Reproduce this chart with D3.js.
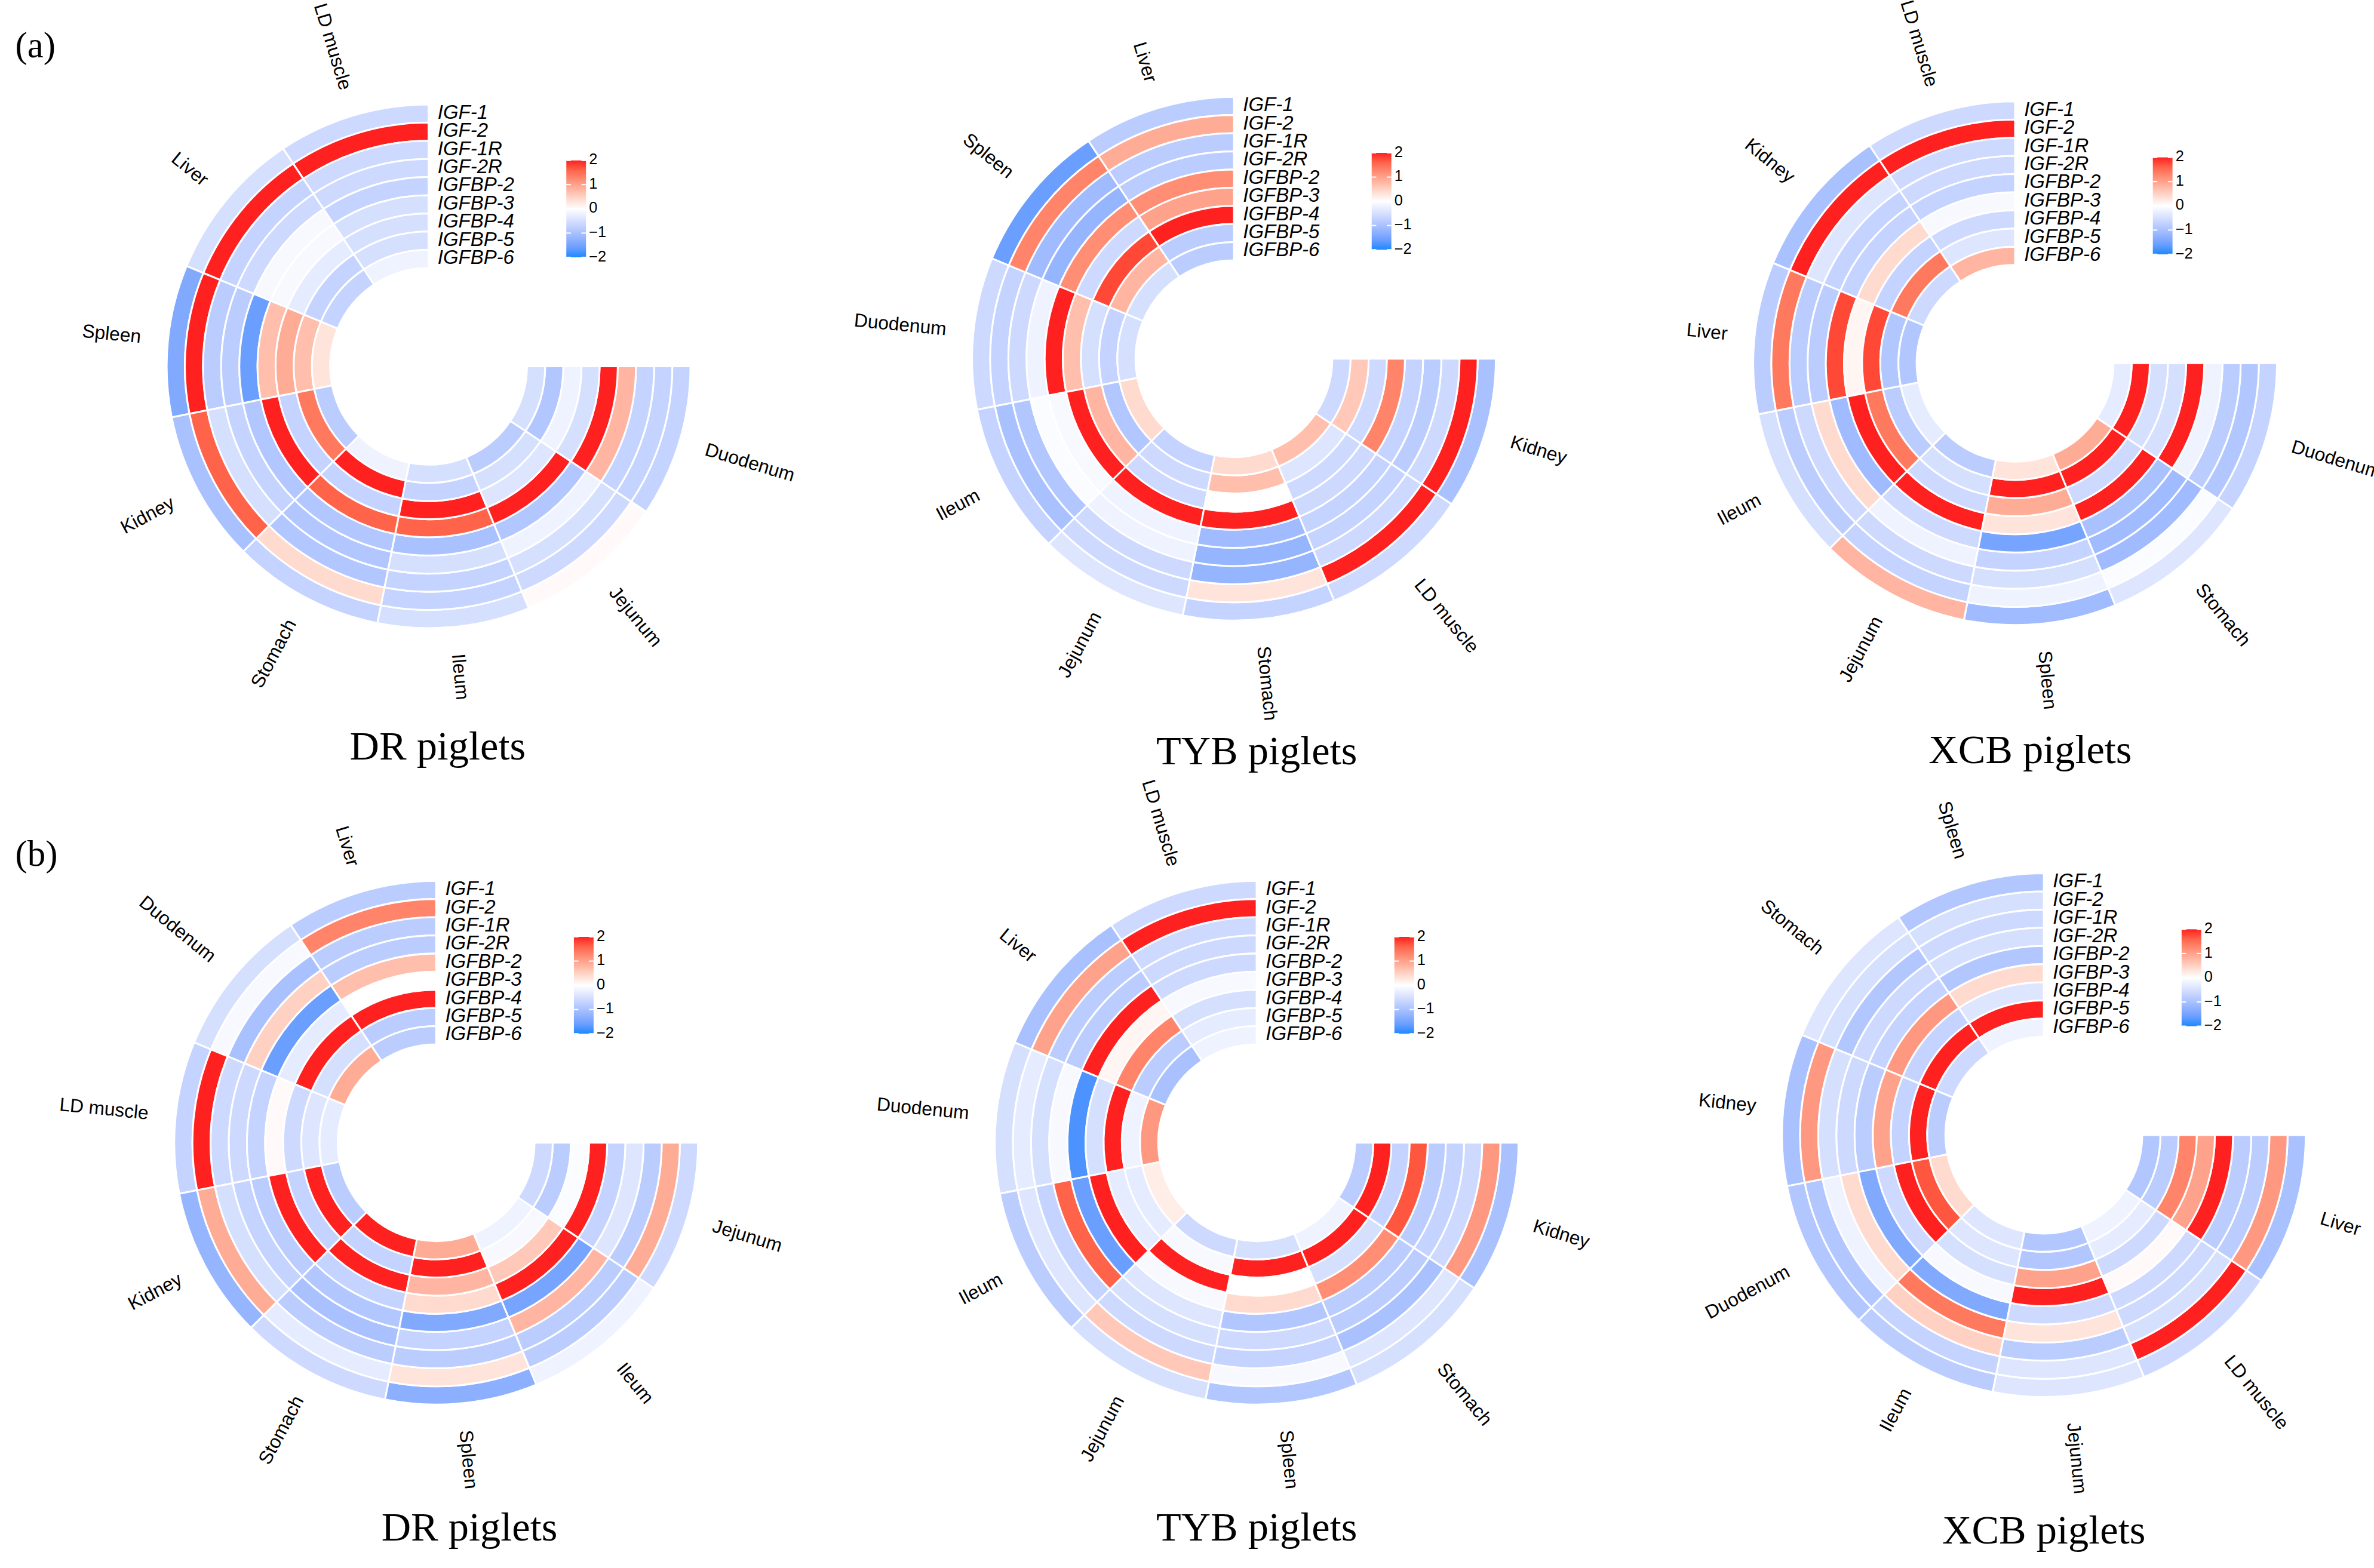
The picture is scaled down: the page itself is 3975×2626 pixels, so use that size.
<!DOCTYPE html>
<html>
<head>
<meta charset="utf-8">
<script src="https://cdn.jsdelivr.net/npm/d3@7"></script>
<style>
body { margin: 0; background: #fff; }
</style>
</head>
<body>
<div id="chart"></div>
<script>
var genes = ["IGF-1", "IGF-2", "IGF-1R", "IGF-2R", "IGFBP-2", "IGFBP-3", "IGFBP-4", "IGFBP-5", "IGFBP-6"];

// tissue order per panel (counter-clockwise from 12 o'clock)
var tissuesA_DR = ["LD muscle", "Liver", "Spleen", "Kidney", "Stomach", "Ileum", "Jejunum", "Duodenum"];
var tissuesA_TYB = ["Liver", "Spleen", "Duodenum", "Ileum", "Jejunum", "Stomach", "LD muscle", "Kidney"];
var tissuesA_XCB = ["LD muscle", "Kidney", "Liver", "Ileum", "Jejunum", "Spleen", "Stomach", "Duodenum"];
var tissuesB_DR = ["Liver", "Duodenum", "LD muscle", "Kidney", "Stomach", "Spleen", "Ileum", "Jejunum"];
var tissuesB_TYB = ["LD muscle", "Liver", "Duodenum", "Ileum", "Jejunum", "Spleen", "Stomach", "Kidney"];
var tissuesB_XCB = ["Spleen", "Stomach", "Kidney", "Duodenum", "Ileum", "Jejunum", "LD muscle", "Liver"];

// z-scores, one row per tissue, columns = genes
var valuesA_DR = [
  [-0.6, 2, -0.6, -0.6, -0.7, -0.5, -0.5, -0.5, -0.2],
  [-0.5, 2, -0.7, -0.6, -0.1, -0.1, -0.3, -0.7, -0.7],
  [-1.4, 2, -0.8, -0.8, -1.6, 0.7, 0.9, 0.7, 0.3],
  [-1.0, 1.6, -0.5, -0.7, -0.9, 2, -0.7, 1.4, -0.8],
  [-0.7, 0.4, -0.9, -0.9, -0.9, 1.6, -0.7, 2, -0.2],
  [-0.5, -0.7, -0.7, -0.5, -1.0, 1.6, 2, -0.7, -0.5],
  [0.05, -0.6, -0.5, -0.2, -0.9, 2, -0.4, -0.5, -0.8],
  [-0.7, -0.7, -0.7, 0.8, 2, -0.5, -0.2, -0.9, -0.5]
];
var valuesA_TYB = [
  [-0.8, 0.9, -0.8, -0.8, 1.2, 1.0, 2, -0.8, -0.8],
  [-1.6, 1.3, -1.1, -1.2, 1.2, -0.6, 1.8, 0.8, -0.5],
  [-0.6, -0.7, -0.6, -0.2, 2, 0.7, -0.5, -0.7, -0.5],
  [-0.7, -1.0, -0.9, -0.05, -0.1, 2, 0.8, -0.9, 0.4],
  [-0.4, -0.6, -0.6, -0.2, -0.2, 2, -0.6, -0.6, -0.7],
  [-0.7, 0.3, -1.2, -1.2, -1.1, 2, 0.0, 0.7, 0.4],
  [-0.6, 2, -0.6, -0.7, -0.7, -0.6, -0.6, -0.4, 0.7],
  [-1.0, 2, -0.6, -0.8, -0.7, 1.3, -0.6, 0.6, -0.6]
];
var valuesA_XCB = [
  [-0.6, 2, -0.6, -0.6, -0.7, -0.1, -0.6, -0.4, 0.8],
  [-1.0, 2, -0.4, -0.7, -0.7, 0.4, -0.7, 1.4, -0.6],
  [-0.8, 1.4, -0.8, -0.8, 1.8, 0.1, 1.8, -0.9, -0.9],
  [-0.5, -0.8, -0.6, 0.4, -1.1, 2, 1.4, -0.8, -0.3],
  [0.8, -0.7, -0.6, -0.2, -0.6, 2, -0.6, -0.5, -0.8],
  [-1.1, -0.2, -0.5, -0.7, -1.5, 0.3, 0.9, 2, 0.3],
  [-0.4, -0.05, -1.1, -1.1, -1.0, 2, -0.6, 2, 0.9],
  [-0.7, -0.9, -0.8, -0.2, 2, -0.5, -0.5, 2, -0.3]
];
var valuesB_DR = [
  [-0.8, 1.3, -0.8, -0.8, 0.7, 0.0, 2, -0.8, -0.8],
  [-0.5, -0.1, -1.0, 0.5, -1.6, -0.3, 2, -0.5, 0.9],
  [-0.7, 2, -0.6, -0.6, -0.7, 0.05, -0.6, -0.4, -0.3],
  [-1.2, 0.9, -0.5, -0.7, -0.8, 2, -0.7, 2, -0.8],
  [-0.6, -0.3, -0.8, -1.0, -0.9, -0.7, 2, -0.7, 2],
  [-1.3, 0.3, -0.8, -0.7, -1.4, 0.4, 0.8, 2, 0.9],
  [-0.2, -0.8, -0.8, 0.8, -1.5, 2, 0.6, -0.1, -0.2],
  [-0.6, 0.9, -0.8, -0.4, -0.7, 2, -0.05, -0.8, -0.6]
];
var valuesB_TYB = [
  [-0.6, 2, -0.6, -0.6, -0.6, -0.1, -0.5, -0.3, -0.2],
  [-1.0, 1.0, -0.8, -0.8, 2, 0.1, 1.3, -0.8, -1.0],
  [-0.5, -0.3, -0.5, -0.1, -1.8, -0.5, 2, -0.2, 1.1],
  [-0.8, -0.4, -0.7, 1.6, -1.6, 2, -0.3, -0.3, 0.2],
  [-0.5, 0.6, -0.6, -0.5, -0.4, -0.1, 2, -0.1, -0.6],
  [-0.9, -0.1, -0.7, -0.6, -0.9, 0.4, 0.0, 2, -0.5],
  [-0.5, -0.4, -1.0, -0.8, -0.8, 1.2, -0.5, 2, -0.2],
  [-1.0, 1.1, -0.6, -0.7, -0.8, 1.7, -0.7, 2, -0.8]
];
var valuesB_XCB = [
  [-0.9, -0.5, -0.6, -0.5, -0.9, 0.4, -0.4, 2, -0.2],
  [-0.4, -0.5, -0.9, -0.6, -0.7, 1.1, -0.7, 2, -0.6],
  [-1.0, 1.1, -0.5, -0.6, -0.8, 1.0, -0.7, 2, -0.8],
  [-0.9, -0.9, -0.2, 0.4, -1.4, -0.6, 2, 1.7, 0.4],
  [-0.8, -0.7, 0.5, 1.4, -1.4, -0.1, -0.5, -0.4, -0.4],
  [-0.4, -0.4, -0.8, 0.3, -0.6, 2, 1.0, -0.9, -0.9],
  [-0.6, 2, -0.5, -0.6, -0.6, 0.05, -0.6, -0.3, -0.2],
  [-1.0, 1.1, -0.8, -0.8, 2, 1.0, 1.3, -0.8, -0.9]
];
var legendTicks = [2, 1, 0, -1, -2];

var panels = [
  {tissues: tissuesA_DR, values: valuesA_DR, cx: 283, cy: 242, title: "DR piglets", tx: 289, ty: 502},
  {tissues: tissuesA_TYB, values: valuesA_TYB, cx: 815, cy: 237, title: "TYB piglets", tx: 830, ty: 505},
  {tissues: tissuesA_XCB, values: valuesA_XCB, cx: 1331, cy: 240, title: "XCB piglets", tx: 1341, ty: 504},
  {tissues: tissuesB_DR, values: valuesB_DR, cx: 288, cy: 755, title: "DR piglets", tx: 310, ty: 1018},
  {tissues: tissuesB_TYB, values: valuesB_TYB, cx: 830, cy: 755, title: "TYB piglets", tx: 830, ty: 1018},
  {tissues: tissuesB_XCB, values: valuesB_XCB, cx: 1350, cy: 750, title: "XCB piglets", tx: 1350, ty: 1020}
];

var W = 1568, H = 1036;
var R = 185, r0 = 77;

var svg = d3.select("#chart").append("svg")
    .attr("width", 3975).attr("height", 2626)
    .attr("viewBox", "0 0 " + W + " " + H);

var color = d3.scaleLinear().domain([-2, 0, 2])
    .range(["#1E88FF", "#FFFFFF", "#FF2020"])
    .interpolate(d3.interpolateLab).clamp(true);

var ring = d3.scaleBand().domain(genes).range([R, r0]);
var arc = d3.arc();

svg.append("text").attr("x", 10).attr("y", 38).text("(a)")
    .style("font-family", "Liberation Serif, Times New Roman, serif").style("font-size", "24px");
svg.append("text").attr("x", 10).attr("y", 572).text("(b)")
    .style("font-family", "Liberation Serif, Times New Roman, serif").style("font-size", "24px");

panels.forEach(function(p){
    var g = svg.append("g").attr("transform", "translate(" + p.cx + "," + p.cy + ")");
    var ang = d3.scaleBand().domain(p.tissues).range([0, 270]);

    var cells = [];
    p.tissues.forEach(function(t, ti){
        genes.forEach(function(gn, gi){
            cells.push({tissue: t, gene: gn, v: p.values[ti][gi]});
        });
    });

    g.selectAll("path.cell").data(cells).enter().append("path")
        .attr("class", "cell")
        .attr("d", function(d){
            var a0 = ang(d.tissue), a1 = a0 + ang.bandwidth();
            return arc({
                innerRadius: ring(d.gene) - ring.bandwidth(),
                outerRadius: ring(d.gene),
                startAngle: -a1 * Math.PI / 180,
                endAngle: -a0 * Math.PI / 180
            });
        })
        .attr("fill", function(d){ return color(d.v); })
        .attr("stroke", "#fff").attr("stroke-width", 1.2);

    // tissue labels, radial
    g.selectAll("text.tissue").data(p.tissues).enter().append("text")
        .attr("class", "tissue")
        .attr("transform", function(t){
            var th = (ang(t) + ang.bandwidth() / 2) * Math.PI / 180;
            var x = -Math.sin(th) * (R + 6), y = -Math.cos(th) * (R + 6);
            var phi = Math.atan2(-Math.cos(th), -Math.sin(th)) * 180 / Math.PI;
            var left = th < Math.PI;
            return "translate(" + x + "," + y + ") rotate(" + (left ? phi + 180 : phi) + ")";
        })
        .attr("text-anchor", function(t){
            var th = (ang(t) + ang.bandwidth() / 2);
            return th < 180 ? "end" : "start";
        })
        .attr("dominant-baseline", "middle")
        .style("font-family", "Liberation Sans, Arial, sans-serif")
        .style("font-size", "12.5px")
        .text(function(t){ return t; });

    // gene labels
    g.selectAll("text.gene").data(genes).enter().append("text")
        .attr("class", "gene")
        .attr("x", 6)
        .attr("y", function(d){ return -(ring(d) - ring.bandwidth() / 2); })
        .attr("dominant-baseline", "middle")
        .style("font-family", "Liberation Sans, Arial, sans-serif")
        .style("font-style", "italic")
        .style("font-size", "13px")
        .text(function(d){ return d; });

    // legend
    var lx = 91, ly = -136, lh = 64, lw = 13;
    var ls = d3.scaleLinear().domain([2, -2]).range([0, lh]);
    var lg = g.append("g").attr("transform", "translate(" + lx + "," + ly + ")");
    var defsId = "grad" + p.cx + "_" + p.cy;
    var grad = svg.append("defs").append("linearGradient").attr("id", defsId)
        .attr("x1", 0).attr("y1", 0).attr("x2", 0).attr("y2", 1);
    d3.range(0, 1.0001, 0.1).forEach(function(o){
        grad.append("stop").attr("offset", o).attr("stop-color", color(2 - 4 * o));
    });
    lg.append("rect").attr("width", lw).attr("height", lh).attr("fill", "url(#" + defsId + ")");
    lg.selectAll("line.tk").data(legendTicks).enter().append("line")
        .attr("class", "tk")
        .attr("x1", 0).attr("x2", 3).attr("y1", ls).attr("y2", ls)
        .attr("stroke", "#fff").attr("stroke-width", 0.8);
    lg.selectAll("line.tk2").data(legendTicks).enter().append("line")
        .attr("class", "tk2")
        .attr("x1", lw - 3).attr("x2", lw).attr("y1", ls).attr("y2", ls)
        .attr("stroke", "#fff").attr("stroke-width", 0.8);
    lg.selectAll("text").data(legendTicks).enter().append("text")
        .attr("x", lw + 2).attr("y", ls)
        .attr("dominant-baseline", "middle")
        .style("font-family", "Liberation Sans, Arial, sans-serif")
        .style("font-size", "10px")
        .text(function(d){ return d < 0 ? "\u2212" + (-d) : d; });

    svg.append("text").attr("x", p.tx).attr("y", p.ty)
        .attr("text-anchor", "middle")
        .style("font-family", "Liberation Serif, Times New Roman, serif")
        .style("font-size", "27px")
        .text(p.title);
});
</script>
</body>
</html>
